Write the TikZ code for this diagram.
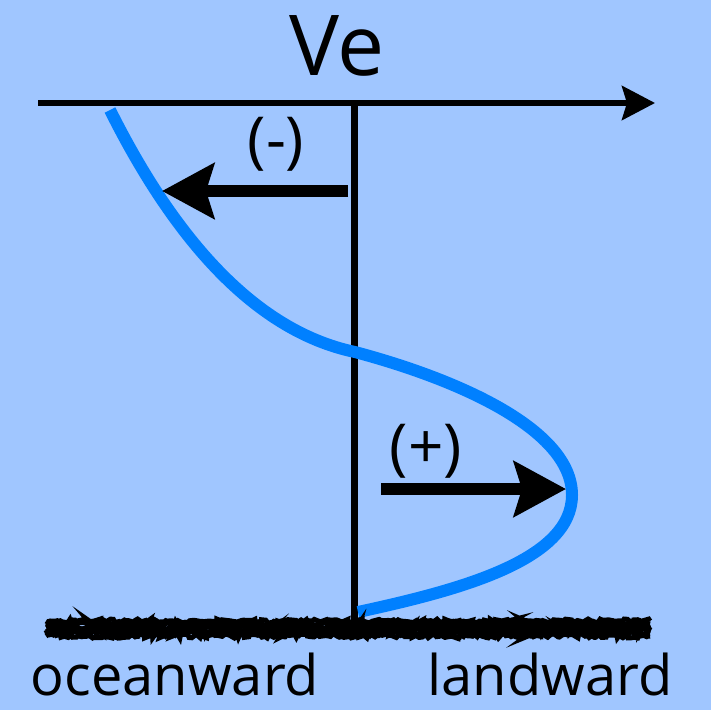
\documentclass[tikz,border=0pt]{standalone}
\usepackage{fontspec}
\setmainfont{Open Sans}
\usetikzlibrary{arrows.meta,decorations.pathmorphing}
\definecolor{skyback}{RGB}{160,198,255}
\definecolor{profileblue}{RGB}{0,128,255}

\begin{document}
\begin{tikzpicture}[x=1pt, y=-1pt,
    bigtext/.style={font=\fontsize{84}{84}\selectfont, inner sep=0pt},
    sign/.style={font=\fontsize{62}{62}\selectfont, inner sep=0pt},
    side/.style={font=\fontsize{56}{56}\selectfont, inner sep=0pt, anchor=base},
    axis/.style={line width=6, -{Stealth[length=33pt, width=34pt, inset=5pt]}},
    flow/.style={line width=12, -{Stealth[length=52pt, width=55pt, inset=8pt]}},
    profile/.style={profileblue, line width=12},
    ground/.style={line width=5, decorate, decoration={random steps, segment length=2.5pt, amplitude=2pt}}
]
\fill[skyback] (0,0) rectangle (711,710);
\useasboundingbox (0,0) rectangle (711,710);

% axes
\coordinate (axl) at (38,103);
\coordinate (axr) at (655,103);
\coordinate (top) at (354,103);
\coordinate (bot) at (354,620);
\draw[axis] (axl) -- (axr);
\draw[line width=7] (top) -- (bot);
\node[bigtext, anchor=base] (ve) at (337,75) {Ve};

% velocity profile
\coordinate (surf) at (110,110);
\coordinate (cross) at (355,352);
\coordinate (tip) at (572,495);
\coordinate (bed) at (358,612);
\draw[profile] (surf) .. controls (170,230) and (250,330) .. (cross)
    .. controls (460,380) and (572,430) .. (tip)
    .. controls (572,560) and (460,590) .. (bed);

% offshore and onshore flow
\coordinate (negs) at (348,191);
\coordinate (nege) at (162,191);
\coordinate (poss) at (381,489);
\coordinate (pose) at (566,489);
\draw[flow] (negs) -- (nege);
\draw[flow] (poss) -- (pose);
\node[sign] (neg) at (276,144) {(-)};
\node[sign] (pos) at (426,451) {(+)};

% sea bed
\coordinate (gl) at (46,629);
\coordinate (gr) at (650,629);
\foreach \dy in {-7,-4,-1,2,5,8}
  \draw[ground] ([yshift=\dy]gl) -- ([yshift=\dy]gr);

\node[side] (ocean) at (175,695) {oceanward};
\node[side] (land) at (550,695) {landward};
\end{tikzpicture}
\end{document}
